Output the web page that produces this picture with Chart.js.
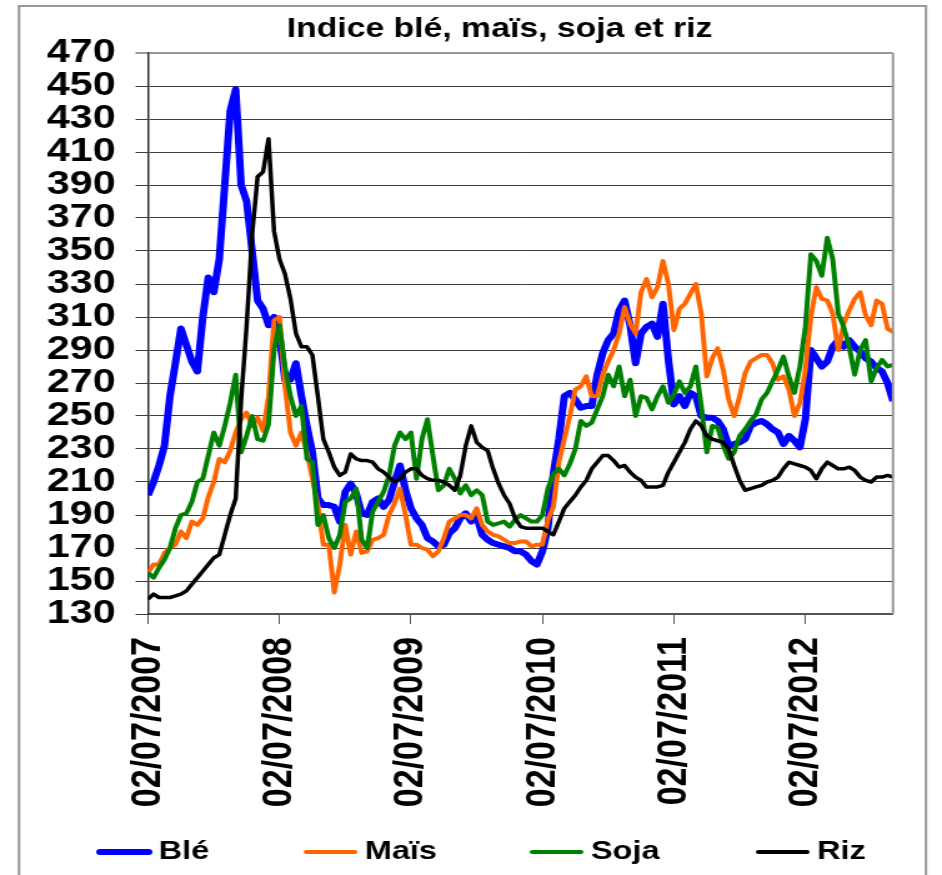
<!DOCTYPE html>
<html lang="fr">
<head>
<meta charset="UTF-8" />
<title>Indice blé, maïs, soja et riz</title>
<script src="https://cdn.jsdelivr.net/npm/chart.js"></script>
<style>
    html, body { margin: 0; padding: 0; background: #fff; overflow: hidden; }
    /* le graphique d'origine est étiré en largeur : on dessine sur 754 px puis on étire à 942 */
    #cadre { width: 754px; height: 875px; transform: scaleX(1.2493); transform-origin: 0 0; }
</style>
</head>
<body>
<div id="cadre"><canvas id="graphIndices"></canvas></div>

<script type="text/javascript">
    // une valeur tous les demi-mois à partir du 02/07/2007
    const pointsParAn = 24;
    const etiquettesX = ['02/07/2007', '02/07/2008', '02/07/2009', '02/07/2010', '02/07/2011', '02/07/2012'];
    const series = ['Blé', 'Maïs', 'Soja', 'Riz'];

    const ble = [
        202, 210, 220, 232, 262, 282, 303, 293, 283, 277, 310, 334,
        325, 345, 390, 435, 448, 390, 380, 350, 320, 315, 305, 310,
        298, 272, 272, 282, 262, 244, 228, 200, 196, 196, 195, 186,
        204, 209, 203, 191, 190, 198, 200, 195, 199, 210, 220, 205,
        194, 188, 184, 176, 174, 171, 172, 179, 182, 188, 191, 186,
        189, 178, 175, 173, 172, 171, 170, 168, 168, 166, 162, 160,
        168, 182, 215, 236, 262, 264, 260, 255, 256, 256, 275, 288,
        296, 300, 314, 320, 305, 282, 300, 304, 306, 298, 318, 284,
        257, 262, 256, 264, 262, 250, 249, 249, 247, 242, 232, 233,
        234, 236, 244, 246, 247, 245, 242, 240, 233, 238, 235, 231,
        248, 290, 285, 280, 283, 292, 296, 292, 296, 292, 289, 285,
        283, 279, 277, 270, 259
    ];
    const mais = [
        155, 160, 160, 167, 170, 172, 180, 176, 186, 184, 188, 201,
        210, 224, 222, 229, 240, 248, 252, 244, 249, 241, 262, 308,
        310, 268, 240, 232, 240, 228, 212, 196, 172, 172, 143, 160,
        184, 166, 180, 167, 168, 175, 176, 178, 190, 197, 206, 190,
        172, 172, 170, 169, 165, 168, 176, 186, 188, 190, 190, 188,
        194, 184, 180, 178, 177, 175, 173, 173, 174, 174, 171, 172,
        172, 187, 195, 222, 236, 250, 266, 268, 274, 262, 262, 275,
        283, 290, 300, 316, 306, 300, 325, 333, 322, 328, 344, 330,
        302, 315, 318, 324, 330, 312, 274, 285, 291, 278, 260, 250,
        262, 276, 283, 285, 287, 287, 282, 272, 274, 266, 250, 258,
        278, 310, 328, 321, 320, 312, 290, 306, 314, 321, 325, 311,
        305, 320, 318, 303, 301
    ];
    const soja = [
        155, 152, 158, 163, 170, 182, 190, 191, 198, 210, 212, 226,
        240, 232, 244, 258, 275, 228, 238, 250, 236, 235, 245, 290,
        305, 280, 262, 250, 256, 224, 222, 184, 190, 176, 170, 178,
        198, 200, 206, 175, 170, 192, 198, 204, 214, 232, 240, 236,
        240, 212, 236, 248, 226, 205, 208, 218, 212, 203, 208, 202,
        205, 202, 186, 184, 185, 186, 183, 187, 190, 188, 186, 186,
        190, 206, 215, 218, 214, 221, 230, 247, 244, 246, 254, 262,
        275, 268, 280, 262, 272, 250, 262, 261, 254, 262, 268, 258,
        263, 271, 264, 268, 280, 256, 228, 244, 243, 232, 224, 228,
        238, 242, 247, 251, 260, 264, 271, 278, 286, 274, 264, 280,
        304, 348, 344, 335, 358, 345, 312, 304, 292, 275, 290, 296,
        271, 279, 284, 280, 281
    ];
    const riz = [
        139, 142, 140, 140, 140, 141, 142, 144, 148, 152, 156, 160,
        164, 166, 178, 190, 200, 260, 305, 360, 395, 398, 418, 362,
        345, 336, 321, 300, 292, 292, 287, 262, 236, 228, 219, 214,
        216, 227, 224, 223, 223, 222, 218, 216, 213, 210, 212, 216,
        218, 218, 214, 212, 211, 211, 210, 208, 205, 214, 232, 244,
        234, 231, 229, 218, 209, 202, 197, 188, 183, 182, 182, 182,
        182, 180, 178, 186, 194, 198, 202, 207, 211, 218, 222, 226,
        226, 223, 219, 220, 216, 213, 211, 207, 207, 207, 208, 216,
        222, 228, 234, 242, 247, 244, 238, 236, 235, 234, 230, 220,
        211, 205, 206, 207, 208, 210, 211, 213, 218, 222, 221, 220,
        219, 217, 212, 218, 222, 220, 218, 218, 219, 217, 213, 211,
        210, 213, 213, 214, 213
    ];
    const couleurs = ['#0000ff', '#ff6600', '#008000', '#000000'];
    const epaisseurs = [6, 4, 4, 3.5];

    const police = "'Liberation Sans', Arial, sans-serif";

    function enPoints(valeurs) {
        return valeurs.map((v, i) => ({ x: i / pointsParAn, y: v }));
    }

    // cadre gris, bord droit de la zone de tracé, titre décalé et légende en bas
    const cadrePlugin = {
        id: 'cadre',
        afterLayout(chart) {
            // dans l'original le titre est centré un peu à droite du centre du graphique
            chart.titleBlock.left = 85;
        },
        beforeDraw(chart) {
            const ctx = chart.ctx;
            ctx.save();
            ctx.strokeStyle = '#999';
            ctx.lineWidth = 2;
            ctx.strokeRect(15.2, 6, 726, 900);
            ctx.restore();
        },
        afterDraw(chart) {
            const a = chart.chartArea;
            const ctx = chart.ctx;
            ctx.save();
            ctx.strokeStyle = '#999';
            ctx.lineWidth = 2;
            ctx.beginPath();
            ctx.moveTo(a.right, a.top);
            ctx.lineTo(a.right, a.bottom);
            ctx.stroke();

            // légende : trait + libellé
            const posLegende = [80, 245, 426, 607];
            const yLeg = 852;
            ctx.font = 'bold 26px ' + police;
            ctx.textBaseline = 'middle';
            ctx.lineCap = 'round';
            chart.data.datasets.forEach((ds, i) => {
                const x0 = posLegende[i];
                ctx.strokeStyle = ds.borderColor;
                ctx.lineWidth = i === 0 ? 6 : 4;
                ctx.beginPath();
                ctx.moveTo(x0, yLeg);
                ctx.lineTo(x0 + 39, yLeg);
                ctx.stroke();
                ctx.fillStyle = '#000';
                ctx.fillText(ds.label, x0 + 47, yLeg);
            });
            ctx.restore();
        }
    };

    const toutes = [ble, mais, soja, riz];
    const ctx = document.getElementById('graphIndices').getContext('2d');
    new Chart(ctx, {
        type: 'line',
        data: {
            datasets: series.map((nom, i) => ({
                label: nom,
                data: enPoints(toutes[i]),
                borderColor: couleurs[i],
                backgroundColor: couleurs[i],
                borderWidth: epaisseurs[i],
                borderJoinStyle: 'round',
                pointRadius: 0,
                tension: 0,
                order: 4 - i
            }))
        },
        options: {
            responsive: true,
            maintainAspectRatio: false,
            animation: false,
            layout: { padding: { left: 0, right: 39.2, top: 0, bottom: 0 } },
            plugins: {
                title: {
                    display: true,
                    text: 'Indice blé, maïs, soja et riz',
                    color: '#000',
                    font: { family: police, size: 27, weight: 'bold' },
                    padding: { top: 13, bottom: 7.6 }
                },
                legend: { display: false },
                tooltip: { enabled: false }
            },
            scales: {
                x: {
                    type: 'linear',
                    min: 0,
                    max: 136 / pointsParAn,
                    afterBuildTicks: (scale) => {
                        scale.ticks = etiquettesX.map((_, i) => ({ value: i }));
                    },
                    afterFit: (scale) => { scale.height = 261; },
                    ticks: {
                        autoSkip: false,
                        minRotation: 90,
                        maxRotation: 90,
                        padding: 13,
                        color: '#000',
                        font: { family: police, size: 34, weight: 'bold' },
                        callback: (v) => etiquettesX[v]
                    },
                    grid: { drawOnChartArea: false, tickLength: 10, color: '#555' },
                    border: { color: '#555', width: 2 }
                },
                y: {
                    min: 130,
                    max: 470,
                    afterFit: (scale) => { scale.width = 118.5; },
                    ticks: {
                        stepSize: 20,
                        autoSkip: false,
                        padding: 16,
                        color: '#000',
                        font: { family: police, size: 33, weight: 'bold' }
                    },
                    grid: {
                        tickLength: 10,
                        color: (c) => (c.tick && c.tick.value === 470 ? '#999' : '#3c3c3c'),
                        lineWidth: (c) => (c.tick && c.tick.value === 470 ? 2 : 1)
                    },
                    border: { color: '#333', width: 1.5 }
                }
            }
        },
        plugins: [cadrePlugin]
    });
</script>
</body>
</html>
